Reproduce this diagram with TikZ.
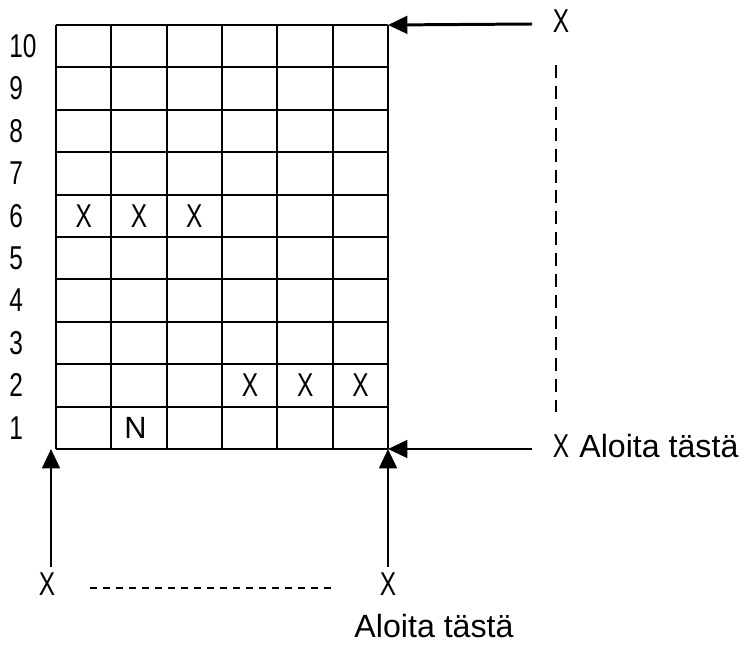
\documentclass[tikz,border=0pt]{standalone}
\usepackage{fontspec}
\setmainfont{Liberation Sans}
\newfontfamily\narrowfont[FakeStretch=0.74]{Liberation Sans}
\usetikzlibrary{arrows.meta}

\tikzset{
	gridline/.style={line width=1.1pt},
	pointer/.style={line width=1.7pt, -{Triangle[length=11pt, width=10pt]}},
	guide/.style={line width=1pt, dash pattern=on 7.4pt off 4.5pt},
	xsign/.style={inner sep=0pt, font=\narrowfont\fontsize{18.8}{18.8}\selectfont},
	rownum/.style={xsign, anchor=west},
	hint/.style={inner sep=0pt, font=\fontsize{18.3}{18.3}\selectfont},
	stitch/.style={inner sep=0pt, font=\fontsize{17.5}{17.5}\selectfont},
}

\begin{document}
\begin{tikzpicture}[x=0.02cm, y=-0.02cm]
				\useasboundingbox (0, 0) rectangle (747, 645);
				% Grid:
				\foreach \i in {0,...,6}
					\draw[gridline] (56 + 55.33*\i, 25) -- (56 + 55.33*\i, 449);
				\foreach \j in {0,...,10}
					\draw[gridline] (56, 25 + 42.4*\j) -- (388, 25 + 42.4*\j);
				\coordinate (TR) at (388, 25);
				\coordinate (BR) at (388, 449);
				\coordinate (BL) at (51, 449);
				% Row numbers:
				\foreach \r in {1,...,10}
					\node[rownum] (n\r) at (9, 470.2 - 42.4*\r) {\r};
				% Marks in the cells:
				\node[xsign] (x61) at (83.7, 216) {X};
				\node[xsign] (x62) at (139, 216) {X};
				\node[xsign] (x63) at (194.3, 216) {X};
				\node[xsign] (x24) at (250, 385.6) {X};
				\node[xsign] (x25) at (305.3, 385.6) {X};
				\node[xsign] (x26) at (360.6, 385.6) {X};
				\node[stitch] (N) at (135.5, 428) {N};
				% Labels:
				\node[xsign] (topX) at (561, 21) {X};
				\node[xsign] (sideX) at (561, 446) {X};
				\node[hint, anchor=west] (sideStart) at (579, 446) {Aloita tästä};
				\node[xsign] (leftX) at (47, 584) {X};
				\node[xsign] (rightX) at (388, 584) {X};
				\node[hint] (bottomStart) at (434, 626) {Aloita tästä};
				% Arrows and dashed guides:
				\coordinate (topTail) at (532, 24);
				\coordinate (sideTail) at (532, 449);
				\coordinate (leftTail) at (51, 567);
				\coordinate (rightTail) at (388, 567);
				\draw[pointer] (topTail) -- (TR);
				\draw[pointer] (sideTail) -- (BR);
				\draw[pointer] (leftTail) -- (BL);
				\draw[pointer] (rightTail) -- (BR);
				\coordinate (guideTop) at (556, 65);
				\coordinate (guideBottom) at (556, 412);
				\coordinate (guideLeft) at (90, 588);
				\coordinate (guideRight) at (333, 588);
				\draw[guide] (guideTop) -- (guideBottom);
				\draw[guide, dash pattern=on 4pt off 3.4pt] (guideLeft) -- (guideRight);
\end{tikzpicture}
\end{document}
